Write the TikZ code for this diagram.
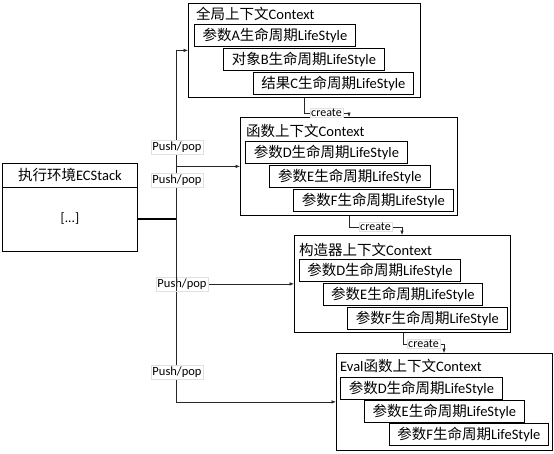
\documentclass[tikz,border=0pt]{standalone}
\usepackage{fontspec}
\setmainfont{Carlito}
\newfontfamily\cjk{Noto Sans CJK SC}
\newcommand\Z[1]{{\cjk #1}}
\usetikzlibrary{arrows.meta,calc}
\tikzset{
 frame/.style={draw=black, line width=0.8pt, anchor=north west, inner sep=0pt},
 item/.style={draw=black, line width=0.8pt, anchor=north west, minimum height=22pt, inner sep=0pt, font=\fontsize{14.5}{15}\selectfont},
 ttl/.style={anchor=west, inner sep=0pt, font=\fontsize{14.5}{16}\selectfont},
 conn/.style={draw=black!85, line width=0.6pt, -{Latex[length=4.5pt,width=3.5pt]}},
 lbl/.style={fill=white, draw=black!12, line width=0.4pt, inner sep=1.5pt, font=\fontsize{12.5}{14}\selectfont},
 clbl/.style={lbl, inner sep=1pt, font=\fontsize{12}{13}\selectfont},
}
\begin{document}
\begin{tikzpicture}[x=1pt,y=-1pt]
\useasboundingbox (0,0) rectangle (554,453);
% ECStack
\node[frame, minimum width=135pt, minimum height=88pt] (ec) at (2,163) {};
\draw[line width=0.8pt] ($(ec.north west)+(0,24)$) -- ($(ec.north east)+(0,24)$);
\node[font=\fontsize{14.5}{16}\selectfont] (ect) at ($(ec.north)+(0,12)$) {\Z{执行环境}ECStack};
\node[font=\fontsize{13.5}{15}\selectfont] (ecd) at ($(ec.north)+(0,56)$) {[...]};
% Global context
\node[frame, minimum width=232pt, minimum height=94pt] (g) at (188,3) {};
\node[ttl] (gt) at (196,14) {\Z{全局上下文}Context};
\node[item, minimum width=161pt] (ga) at (194,24) {\Z{参数}A\Z{生命周期}LifeStyle};
\node[item, minimum width=161pt] (gb) at (223,48) {\Z{对象}B\Z{生命周期}LifeStyle};
\node[item, minimum width=160pt] (gc) at (253,72) {\Z{结果}C\Z{生命周期}LifeStyle};
% Function context
\node[frame, minimum width=217pt, minimum height=98pt] (f) at (240,117) {};
\node[ttl] (ft) at (246,131) {\Z{函数上下文}Context};
\node[item, minimum width=162pt] (fd) at (245,141) {\Z{参数}D\Z{生命周期}LifeStyle};
\node[item, minimum width=161pt] (fe) at (269,165) {\Z{参数}E\Z{生命周期}LifeStyle};
\node[item, minimum width=160pt] (ff) at (293,189) {\Z{参数}F\Z{生命周期}LifeStyle};
% Constructor context
\node[frame, minimum width=216pt, minimum height=97pt] (c) at (294,235) {};
\node[ttl] (ct) at (299,250) {\Z{构造器上下文}Context};
\node[item, minimum width=161pt] (cd) at (299,259) {\Z{参数}D\Z{生命周期}LifeStyle};
\node[item, minimum width=159pt] (ce) at (323,283) {\Z{参数}E\Z{生命周期}LifeStyle};
\node[item, minimum width=160pt] (cf) at (347,307) {\Z{参数}F\Z{生命周期}LifeStyle};
% Eval context
\node[frame, minimum width=216pt, minimum height=97pt] (e) at (336,353) {};
\node[ttl] (et) at (340,366) {Eval\Z{函数上下文}Context};
\node[item, minimum width=162pt] (ed) at (340,377) {\Z{参数}D\Z{生命周期}LifeStyle};
\node[item, minimum width=160pt] (ee) at (364,400) {\Z{参数}E\Z{生命周期}LifeStyle};
\node[item, minimum width=159pt] (ef) at (389,423) {\Z{参数}F\Z{生命周期}LifeStyle};
% bus
\coordinate (bus) at (176,219);
\draw[line width=2pt] (ec.east |- bus) -- (bus);
\draw[conn] (bus) |- (g.west);
\draw[conn] (bus) |- (f.west);
\draw[conn] (bus) |- (c.west);
\draw[conn] (bus) |- (e.west);
\node[lbl] (p1) at (177,147) {Push/pop};
\node[lbl] (p2) at (177,180) {Push/pop};
\node[lbl] (p3) at (182,284) {Push/pop};
\node[lbl] (p4) at (177,372) {Push/pop};
\draw[black!85, line width=0.6pt] (p3.north -| bus) -- (p3.south -| bus);
% create connectors
\draw[conn] ($(g.south west)+(116,0)$) -- ++(0,15) -| node[clbl,pos=0.25]{create} ($(f.north west)+(109,0)$);
\draw[conn] ($(f.south west)+(109,0)$) -- ++(0,11) -| node[clbl,pos=0.25]{create} ($(c.north west)+(108,0)$);
\draw[conn] ($(c.south west)+(109,0)$) -- ++(0,11) -| node[clbl,pos=0.25]{create} ($(e.north west)+(108,0)$);
\end{tikzpicture}
\end{document}
